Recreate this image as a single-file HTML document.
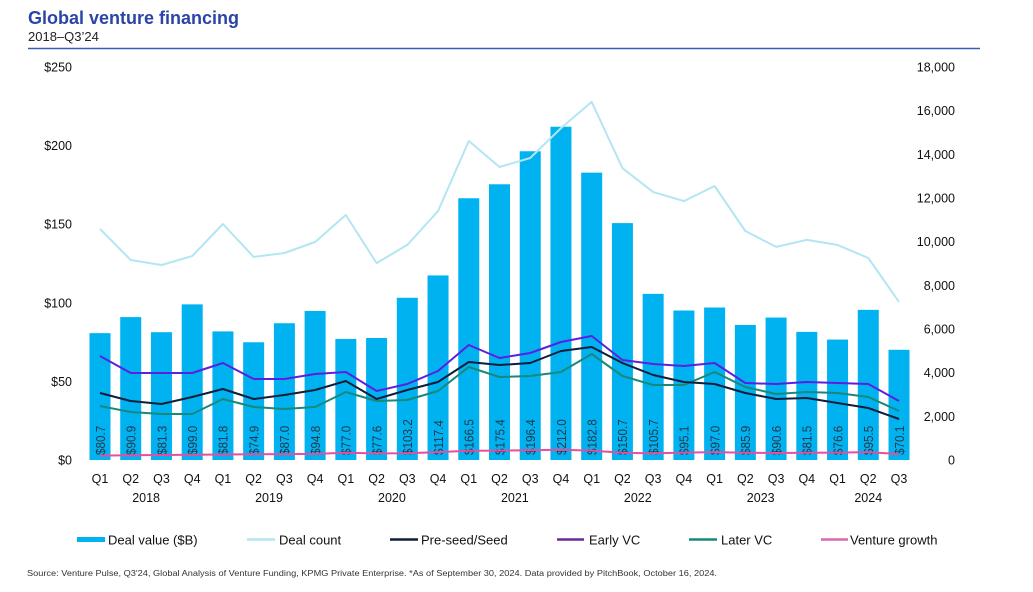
<!DOCTYPE html>
<html><head><meta charset="utf-8">
<style>
body{margin:0;background:#fff;font-family:"Liberation Sans",Arial,sans-serif;}
svg{display:block}
</style></head>
<body>
<svg id="chart" width="1033" height="592" xmlns="http://www.w3.org/2000/svg">
<text x="28" y="24" font-size="18" font-weight="bold" fill="#2b44a8">Global venture financing</text>
<text x="28" y="41" font-size="13" fill="#222">2018–Q3’24</text>
<line x1="28" y1="48.5" x2="980" y2="48.5" stroke="#3d5ab5" stroke-width="1.5"/>
<g id="plot"></g>
<text x="27" y="576" font-size="8.6" fill="#333" textLength="690" lengthAdjust="spacingAndGlyphs">Source: Venture Pulse, Q3'24, Global Analysis of Venture Funding, KPMG Private Enterprise. *As of September 30, 2024. Data provided by PitchBook, October 16, 2024.</text>
</svg>
<script>
const quarters=["Q1","Q2","Q3","Q4","Q1","Q2","Q3","Q4","Q1","Q2","Q3","Q4","Q1","Q2","Q3","Q4","Q1","Q2","Q3","Q4","Q1","Q2","Q3","Q4","Q1","Q2","Q3"];
const years=["2018","2019","2020","2021","2022","2023","2024"];
const dealValue=[80.7,90.9,81.3,99.0,81.8,74.9,87.0,94.8,77.0,77.6,103.2,117.4,166.5,175.4,196.4,212.0,182.8,150.7,105.7,95.1,97.0,85.9,90.6,81.5,76.6,95.5,70.1];
const dealCount=[10580,9160,8930,9340,10810,9300,9480,9985,11220,9020,9850,11400,14610,13420,13830,15200,16400,13370,12270,11860,12550,10490,9760,10080,9850,9250,7240];
const preSeed=[3069,2702,2565,2885,3252,2794,2977,3206,3618,2794,3206,3572,4488,4351,4443,4992,5175,4443,3893,3572,3481,3069,2794,2840,2611,2382,1878];
const earlyVC=[4763,3985,3985,3985,4443,3710,3710,3939,4030,3160,3481,4076,5267,4672,4901,5404,5679,4580,4397,4305,4443,3527,3481,3572,3527,3481,2702];
const laterVC=[2473,2198,2107,2107,2794,2427,2336,2427,3114,2702,2748,3160,4259,3801,3847,4030,4855,3847,3435,3435,4030,3343,3023,3114,3069,2885,2244];
const ventureGrowth=[200,220,230,240,250,260,270,280,330,300,310,360,420,430,450,470,430,330,300,340,360,330,320,330,340,360,270];
const leftTicks=[0,50,100,150,200,250];
const rightTicks=[0,2000,4000,6000,8000,10000,12000,14000,16000,18000];

const NS="http://www.w3.org/2000/svg";
const g=document.getElementById('plot');
const y0=460,yTop=67;
const yL=v=>y0-(v/250)*(y0-yTop);
const yR=v=>y0-(v/18000)*(y0-yTop);
const xC=i=>100+i*(899-100)/26;
function mk(tag,attrs){const e=document.createElementNS(NS,tag);for(const k in attrs)e.setAttribute(k,attrs[k]);g.appendChild(e);return e;}

leftTicks.forEach(t=>{const e=mk('text',{x:72,y:yL(t)+4.5,'font-size':12.5,'text-anchor':'end',fill:'#111'});e.textContent='$'+t;

});
rightTicks.forEach(t=>{const e=mk('text',{x:955,y:yR(t)+4.5,'font-size':12.5,'text-anchor':'end',fill:'#111'});e.textContent=t===0?'0':t.toLocaleString('en-US');

});

dealValue.forEach((v,i)=>{const r=mk('rect',{x:xC(i)-10.5,y:yL(v),width:21,height:y0-yL(v),fill:'#00b2ef'});


const t=mk('text',{transform:`translate(${xC(i)+4.8},455) rotate(-90) scale(0.9,1)`,'font-size':13,fill:'#24364a'});t.textContent='$'+v.toFixed(1);

});

function line(arr,color,name,w){const d=arr.map((v,i)=>(i?'L':'M')+xC(i).toFixed(1)+','+yR(v).toFixed(1)).join(' ');
const p=mk('path',{d:d,fill:'none',stroke:color,'stroke-width':w,'stroke-linejoin':'round'});

}
line(dealCount,'#b2e6f2','line-deal-count',2);
line(laterVC,'#17897a','line-later-vc',2);
line(preSeed,'#0e1d3a','line-pre-seed',2);
line(earlyVC,'#5a20e0','line-early-vc',2);
line(ventureGrowth,'#ea4c9e','line-venture-growth',2);

quarters.forEach((q,i)=>{const t=mk('text',{x:xC(i),y:483,'font-size':12.5,'text-anchor':'middle',fill:'#111'});t.textContent=q;

});
years.forEach((y,k)=>{const t=mk('text',{x:(xC(k*4)+xC(Math.min(k*4+3,26)))/2,y:502,'font-size':12.5,'text-anchor':'middle',fill:'#111'});t.textContent=y;

});

const legend=[["Deal value ($B)","#00b2ef",77,105,108,true],["Deal count","#b2e6f2",247,275,279],["Pre-seed/Seed","#0e1d3a",390,418,421],["Early VC","#6a2a9a",557,584,589],["Later VC","#17897a",689,717,721],["Venture growth","#d866b0",821,848,850]];
legend.forEach(l=>{let s;
if(l[5]){s=mk('rect',{x:l[2],y:537,width:l[3]-l[2],height:5,fill:l[1]});}
else{s=mk('line',{x1:l[2],y1:539.5,x2:l[3],y2:539.5,stroke:l[1],'stroke-width':2.5});}


const t=mk('text',{x:l[4],y:544.5,'font-size':13,fill:'#111'});t.textContent=l[0];

});
</script>
</body></html>
